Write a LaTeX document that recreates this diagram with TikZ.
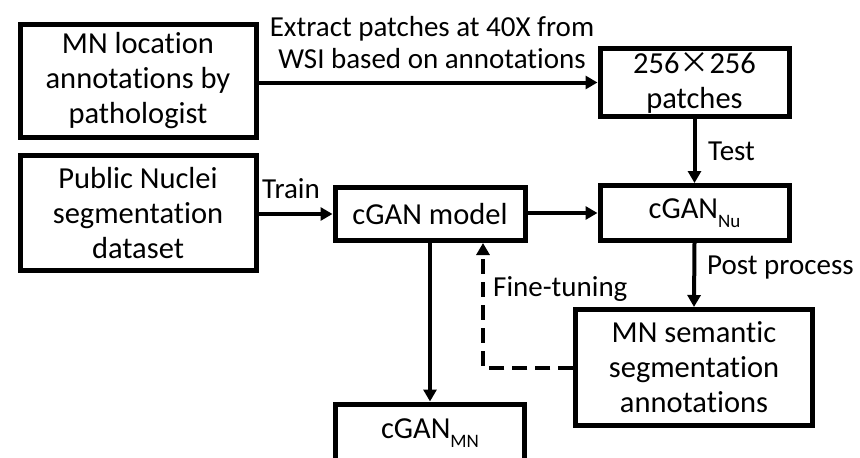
\documentclass[tikz,border=0pt]{standalone}
\usepackage{fontspec}
\setmainfont[Ligatures=NoCommon]{Carlito}
\newfontfamily\cjk{Noto Sans CJK JP}
\usetikzlibrary{arrows.meta}
\newcommand{\sbs}[1]{\raisebox{-0.28em}{\fontsize{19}{19}\selectfont #1}}
\begin{document}
\begin{tikzpicture}[x=1pt,y=-1pt,
  box/.style={draw, line width=5pt, rectangle, inner sep=0pt, align=center,
    font=\fontsize{30.5}{35}\selectfont},
  arr/.style={line width=4pt, -{Triangle[length=12pt,width=13pt]}},
  lbl/.style={inner sep=0pt, font=\fontsize{29}{32}\selectfont}]
\useasboundingbox (0,0) rectangle (860,458);
\node[box, minimum width=236pt, minimum height=113pt] (A) at (138,81)
  {MN location\\annotations by\\pathologist};
\node[box, minimum width=236pt, minimum height=115pt] (B) at (138,213)
  {Public Nuclei\\segmentation\\dataset};
\node[box, minimum width=190pt, minimum height=53pt] (M) at (430,214) {cGAN model};
\node[box, minimum width=189pt, minimum height=68pt] (P) at (694.5,82.5)
  {256{\cjk\fontsize{30}{30}\selectfont ×}256\\patches};
\node[box, minimum width=189pt, minimum height=55pt] (N) at (694.5,213) {cGAN\sbs{Nu}};
\node[box, minimum width=236.5pt, minimum height=116pt] (S) at (694,367.5)
  {MN semantic\\segmentation\\annotations};
\node[box, minimum width=189pt, minimum height=58pt] (G) at (430,433) {cGAN\sbs{MN}};

\draw[arr] (A.east |- P.west) -- (P.west);
\node[lbl, align=center] (t1) at (432,43) {Extract patches at 40X from\\WSI based on annotations};
\draw[arr] (P.south) -- (N.north);
\node[lbl, anchor=west] (t2) at (708,151) {Test};
\draw[arr] (B.east |- M.west) -- (M.west);
\node[lbl, anchor=west] (t3) at (262,189) {Train};
\draw[arr] (M.east |- N.west) -- (N.west);
\draw[arr] (M.south) -- (G.north);
\draw[arr] (N.south) -- (S.north);
\node[lbl, anchor=west] (t4) at (707,268) {Post process};
\coordinate (c) at (483,367.5);
\draw[arr, dash pattern=on 15pt off 8pt] (S.west) -- (c) -- (c |- M.south);
\node[lbl, anchor=west] (t5) at (493,289) {Fine-tuning};
\end{tikzpicture}
\end{document}
